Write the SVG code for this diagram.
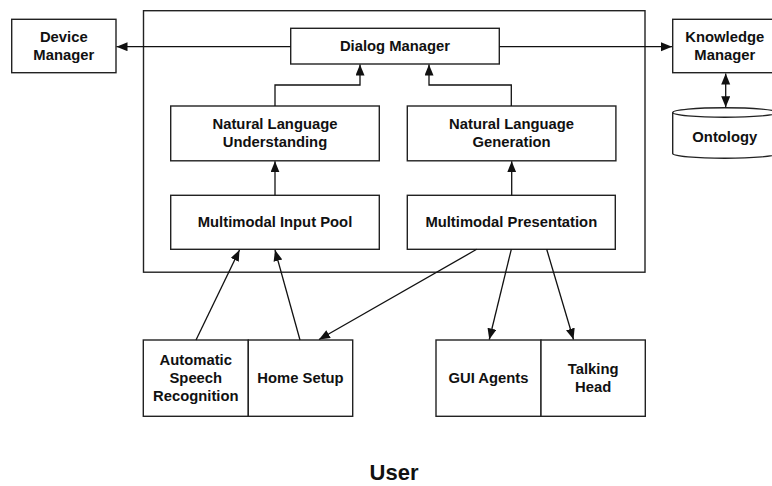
<svg xmlns="http://www.w3.org/2000/svg" width="772" height="486" viewBox="0 0 772 486">
<style>
.box{fill:#fff;stroke:#222;stroke-width:1.4}
.t{font-family:"Liberation Sans",Arial,sans-serif;font-weight:bold;font-size:14.8px;fill:#111;text-anchor:middle}
.c{fill:none;stroke:#111;stroke-width:1.3}
</style>
<defs>
<marker id="ah" markerUnits="userSpaceOnUse" markerWidth="12" markerHeight="10" refX="11" refY="4.5" orient="auto-start-reverse">
<path d="M0,0 L11,4.5 L0,9 z" fill="#111"/>
</marker>
</defs>
<rect x="0" y="0" width="772" height="486" fill="#fff"/>
<g id="system"><rect class="box" x="143.5" y="10.7" width="501.5" height="261.5"/></g>
<g id="device-manager"><rect class="box" x="11.7" y="19.3" width="104.3" height="53.4"/>
<text class="t" x="63.8" y="42.3">Device</text><text class="t" x="63.8" y="60.3">Manager</text></g>
<g id="dialog-manager"><rect class="box" x="290.7" y="28.3" width="208.6" height="35.7"/>
<text class="t" x="395" y="51.3">Dialog Manager</text></g>
<g id="knowledge-manager"><rect class="box" x="672.7" y="19.3" width="104.3" height="53.4"/>
<text class="t" x="724.8" y="42.3">Knowledge</text><text class="t" x="724.8" y="60.3">Manager</text></g>
<g id="ontology"><path class="box" d="M672.7,112.5 L672.7,153.5 A52.15,4.8 0 0 0 777,153.5 L777,112.5"/>
<ellipse class="box" cx="724.85" cy="112.5" rx="52.15" ry="4.8"/>
<text class="t" x="724.8" y="142.3">Ontology</text></g>
<g id="nlu"><rect class="box" x="170.7" y="106" width="208.6" height="54.8"/>
<text class="t" x="275" y="129.3">Natural Language</text><text class="t" x="275" y="147.3">Understanding</text></g>
<g id="nlg"><rect class="box" x="407.3" y="106" width="208.6" height="54.8"/>
<text class="t" x="511.6" y="129.3">Natural Language</text><text class="t" x="511.6" y="147.3">Generation</text></g>
<g id="input-pool"><rect class="box" x="170.7" y="195.3" width="208.6" height="54"/>
<text class="t" x="275" y="226.7">Multimodal Input Pool</text></g>
<g id="presentation"><rect class="box" x="407.3" y="195.3" width="208" height="54"/>
<text class="t" x="511.3" y="226.7">Multimodal Presentation</text></g>
<g id="asr"><rect class="box" x="143.3" y="340" width="105" height="76.3"/>
<text class="t" x="195.8" y="365">Automatic</text><text class="t" x="195.8" y="383">Speech</text><text class="t" x="195.8" y="401">Recognition</text></g>
<g id="home-setup"><rect class="box" x="248.3" y="340" width="104.4" height="76.3"/>
<text class="t" x="300.5" y="383.3">Home Setup</text></g>
<g id="gui-agents"><rect class="box" x="436" y="340" width="105" height="76.3"/>
<text class="t" x="488.5" y="383.3">GUI Agents</text></g>
<g id="talking-head"><rect class="box" x="541" y="340" width="104.3" height="76.3"/>
<text class="t" x="593.2" y="374">Talking</text><text class="t" x="593.2" y="392">Head</text></g>
<g id="user"><text class="t" style="font-size:22px" x="394" y="480">User</text></g>
<g id="connectors">
<line class="c" x1="290.7" y1="46.7" x2="116.5" y2="46.7" marker-end="url(#ah)"/>
<line class="c" x1="499.3" y1="46.7" x2="672" y2="46.7" marker-end="url(#ah)"/>
<line class="c" x1="725.7" y1="73.5" x2="725.7" y2="107.2" marker-start="url(#ah)" marker-end="url(#ah)"/>
<polyline class="c" points="275,106 275,85 360,85 360,64.5" marker-end="url(#ah)"/>
<polyline class="c" points="511.3,106 511.3,85 429,85 429,64.5" marker-end="url(#ah)"/>
<line class="c" x1="275" y1="195.3" x2="275" y2="161.3" marker-end="url(#ah)"/>
<line class="c" x1="511.7" y1="195.3" x2="511.7" y2="161.3" marker-end="url(#ah)"/>
<line class="c" x1="196" y1="340" x2="239.5" y2="250" marker-end="url(#ah)"/>
<line class="c" x1="300" y1="340" x2="275" y2="250" marker-end="url(#ah)"/>
<line class="c" x1="476.7" y1="249.3" x2="319" y2="339.5" marker-end="url(#ah)"/>
<line class="c" x1="511.3" y1="249.3" x2="489.3" y2="339.5" marker-end="url(#ah)"/>
<line class="c" x1="546.7" y1="249.3" x2="573.5" y2="339.5" marker-end="url(#ah)"/>
</g>
</svg>
